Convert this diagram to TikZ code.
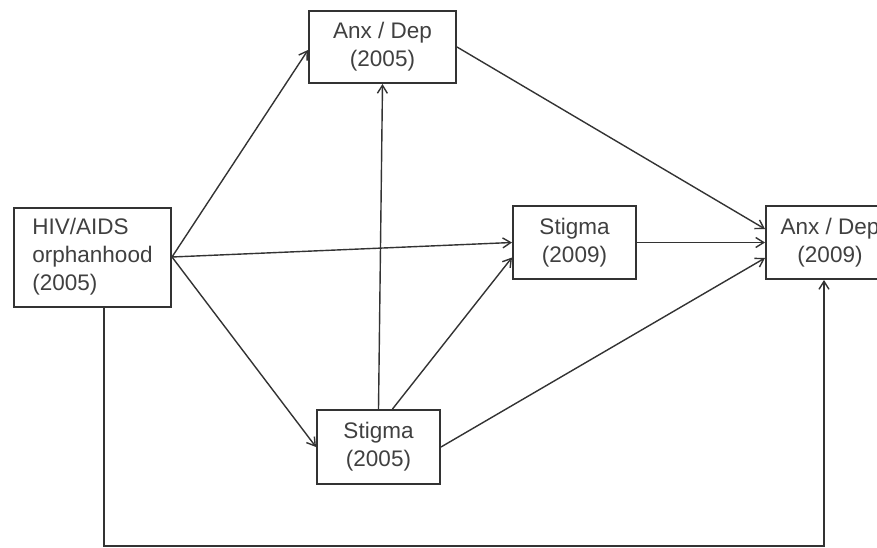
\documentclass[tikz,border=0pt]{standalone}
\usepackage{fontspec}
\setmainfont{Liberation Sans}
\usetikzlibrary{arrows.meta}

\tikzset{
    varbox/.style={draw=black!80, line width=2pt, fill=white, text=black!75,
        font=\fontsize{22.5}{28}\selectfont, inner sep=0pt},
    pathline/.style={draw=black!80, line width=1.4pt},
    patharrow/.style={pathline, -{Straight Barb[length=8pt,width=10pt]}}
}

\begin{document}
\begin{tikzpicture}[x=1pt, y=-1pt]
    \clip (0,0) rectangle (877,548);

    % Variables
    \node[varbox, align=left, minimum width=157pt, minimum height=99pt] (Orphan05) at (92.5,257) {HIV/AIDS\\orphanhood\\(2005)};
    \node[varbox, align=center, minimum width=147pt, minimum height=72pt] (AnxDep05) at (382.5,47) {Anx / Dep\\(2005)};
    \node[varbox, align=center, minimum width=123pt, minimum height=73pt] (Stigma09) at (574.5,242.5) {Stigma\\(2009)};
    \node[varbox, align=center, minimum width=128pt, minimum height=73pt] (AnxDep09) at (830,242.5) {Anx / Dep\\(2009)};
    \node[varbox, align=center, minimum width=123pt, minimum height=74pt] (Stigma05) at (378.5,447) {Stigma\\(2005)};

    \coordinate (BendL) at (104,546);
    \coordinate (BendR) at (824,546);

    % Paths
    \draw[patharrow] (Orphan05.east) -- ([yshift=-3pt]AnxDep05.west);
    \draw[patharrow] (Orphan05.east) -- (Stigma09.west);
    \draw[patharrow] (Orphan05.east) -- (Stigma05.west);
    \draw[patharrow] (Stigma05.north) -- (AnxDep05.south);
    \draw[patharrow] ([xshift=14pt]Stigma05.north) -- ([yshift=-15pt]Stigma09.west);
    \draw[patharrow] (Stigma05.east) -- ([yshift=-15.5pt]AnxDep09.west);
    \draw[patharrow] (Stigma09.east) -- (AnxDep09.west);
    \draw[patharrow] (AnxDep05.east) -- ([yshift=13.5pt]AnxDep09.west);

    % Direct path
    \draw[patharrow] (Orphan05.south -| BendL) -- (BendL) -- (BendR) -- (BendR |- AnxDep09.south);

\end{tikzpicture}
\end{document}
